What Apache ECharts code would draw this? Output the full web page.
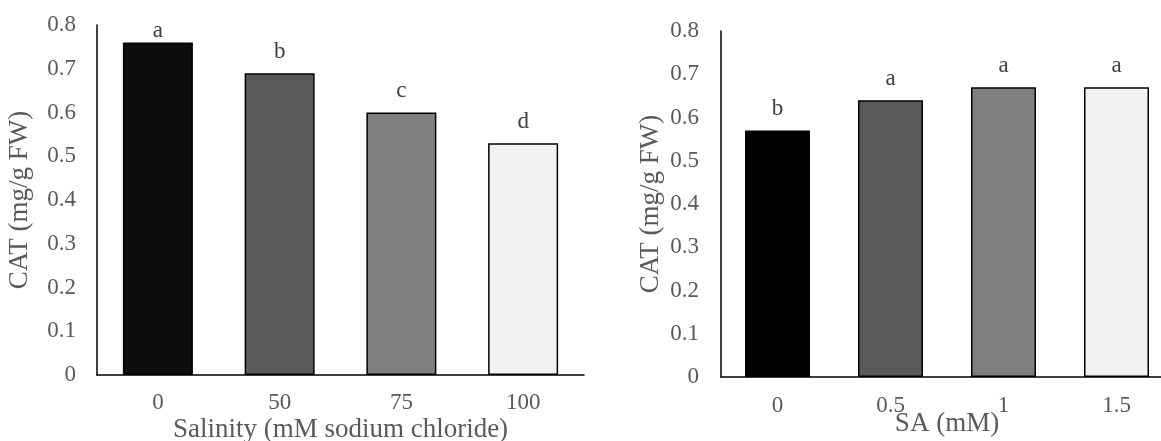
<!DOCTYPE html>
<html>
<head>
<meta charset="utf-8">
<script src="https://cdn.jsdelivr.net/npm/echarts@6/dist/echarts.min.js"></script>
<style>
  html, body { margin: 0; padding: 0; background: #ffffff; }
  #chart { width: 1161px; height: 441px; }
</style>
</head>
<body>
<div id="chart"></div>
<script>
// Salinity treatment (left panel)
const salinityLevels = ['0', '50', '75', '100'];
const salinityCAT = [0.76, 0.69, 0.60, 0.53];
const salinityGroups = ['a', 'b', 'c', 'd'];

// Salicylic acid treatment (right panel)
const saLevels = ['0', '0.5', '1', '1.5'];
const saCAT = [0.57, 0.64, 0.67, 0.67];
const saGroups = ['b', 'a', 'a', 'a'];

const yTicks = [0, 0.1, 0.2, 0.3, 0.4, 0.5, 0.6, 0.7, 0.8];

const salinityFills = ['#0d0d0d', '#595959', '#7f7f7f', '#f2f2f2'];
const saFills = ['#000000', '#595959', '#7f7f7f', '#f2f2f2'];
const FONT = '"Liberation Serif", "Times New Roman", serif';
const GREY = '#595959';

function barData(values, groups, fills, firstDistance) {
  return values.map((v, i) => ({
    value: v,
    itemStyle: { color: fills[i], borderColor: '#000', borderWidth: 1.5 },
    label: {
      formatter: groups[i],
      distance: (i === 0 && firstDistance !== undefined) ? firstDistance : 10
    }
  }));
}

const yAxisBase = (gridIndex, gap, labelMargin) => ({
  type: 'value',
  gridIndex: gridIndex,
  min: yTicks[0],
  max: yTicks[yTicks.length - 1],
  interval: 0.1,
  name: 'CAT (mg/g FW)',
  nameLocation: 'middle',
  nameRotate: 90,
  nameGap: gap,
  nameTextStyle: { fontFamily: FONT, fontSize: 27, color: GREY },
  axisLine: { show: true, lineStyle: { color: '#000', width: 1.5 } },
  axisTick: { show: false },
  splitLine: { show: false },
  axisLabel: {
    fontFamily: FONT, fontSize: 23, color: GREY, margin: labelMargin,
    formatter: (v) => String(Math.round(v * 10) / 10)
  }
});

const xAxisBase = (gridIndex, cats, title, gap, labelMargin) => ({
  type: 'category',
  gridIndex: gridIndex,
  data: cats,
  name: title,
  nameLocation: 'middle',
  nameGap: gap,
  nameMoveOverlap: false,
  nameTextStyle: { fontFamily: FONT, fontSize: 27, color: GREY },
  axisLine: { show: true, lineStyle: { color: '#000', width: 1.5 } },
  axisTick: { show: false },
  axisLabel: { fontFamily: FONT, fontSize: 23, color: GREY, margin: labelMargin }
});

const labelStyle = {
  show: true,
  position: 'top',
  fontFamily: FONT,
  fontSize: 23,
  color: '#404040'
};

const chart = echarts.init(document.getElementById('chart'), null, { renderer: 'canvas' });
chart.setOption({
  animation: false,
  backgroundColor: '#ffffff',
  grid: [
    { left: 97, top: 25, width: 487, height: 350, outerBoundsMode: 'none', containLabel: false },
    { left: 721, top: 31, width: 452, height: 346, outerBoundsMode: 'none', containLabel: false }
  ],
  xAxis: [
    xAxisBase(0, salinityLevels, 'Salinity (mM sodium chloride)', 41, 16),
    xAxisBase(1, saLevels, 'SA (mM)', 33, 17)
  ],
  yAxis: [
    yAxisBase(0, 64, 21),
    yAxisBase(1, 57, 22)
  ],
  series: [
    {
      type: 'bar',
      xAxisIndex: 0,
      yAxisIndex: 0,
      barCategoryGap: '42.5%',
      data: barData(salinityCAT, salinityGroups, salinityFills, 0),
      label: labelStyle
    },
    {
      type: 'bar',
      xAxisIndex: 1,
      yAxisIndex: 1,
      barCategoryGap: '42.5%',
      data: barData(saCAT, saGroups, saFills),
      label: labelStyle
    }
  ]
});
</script>
</body>
</html>
